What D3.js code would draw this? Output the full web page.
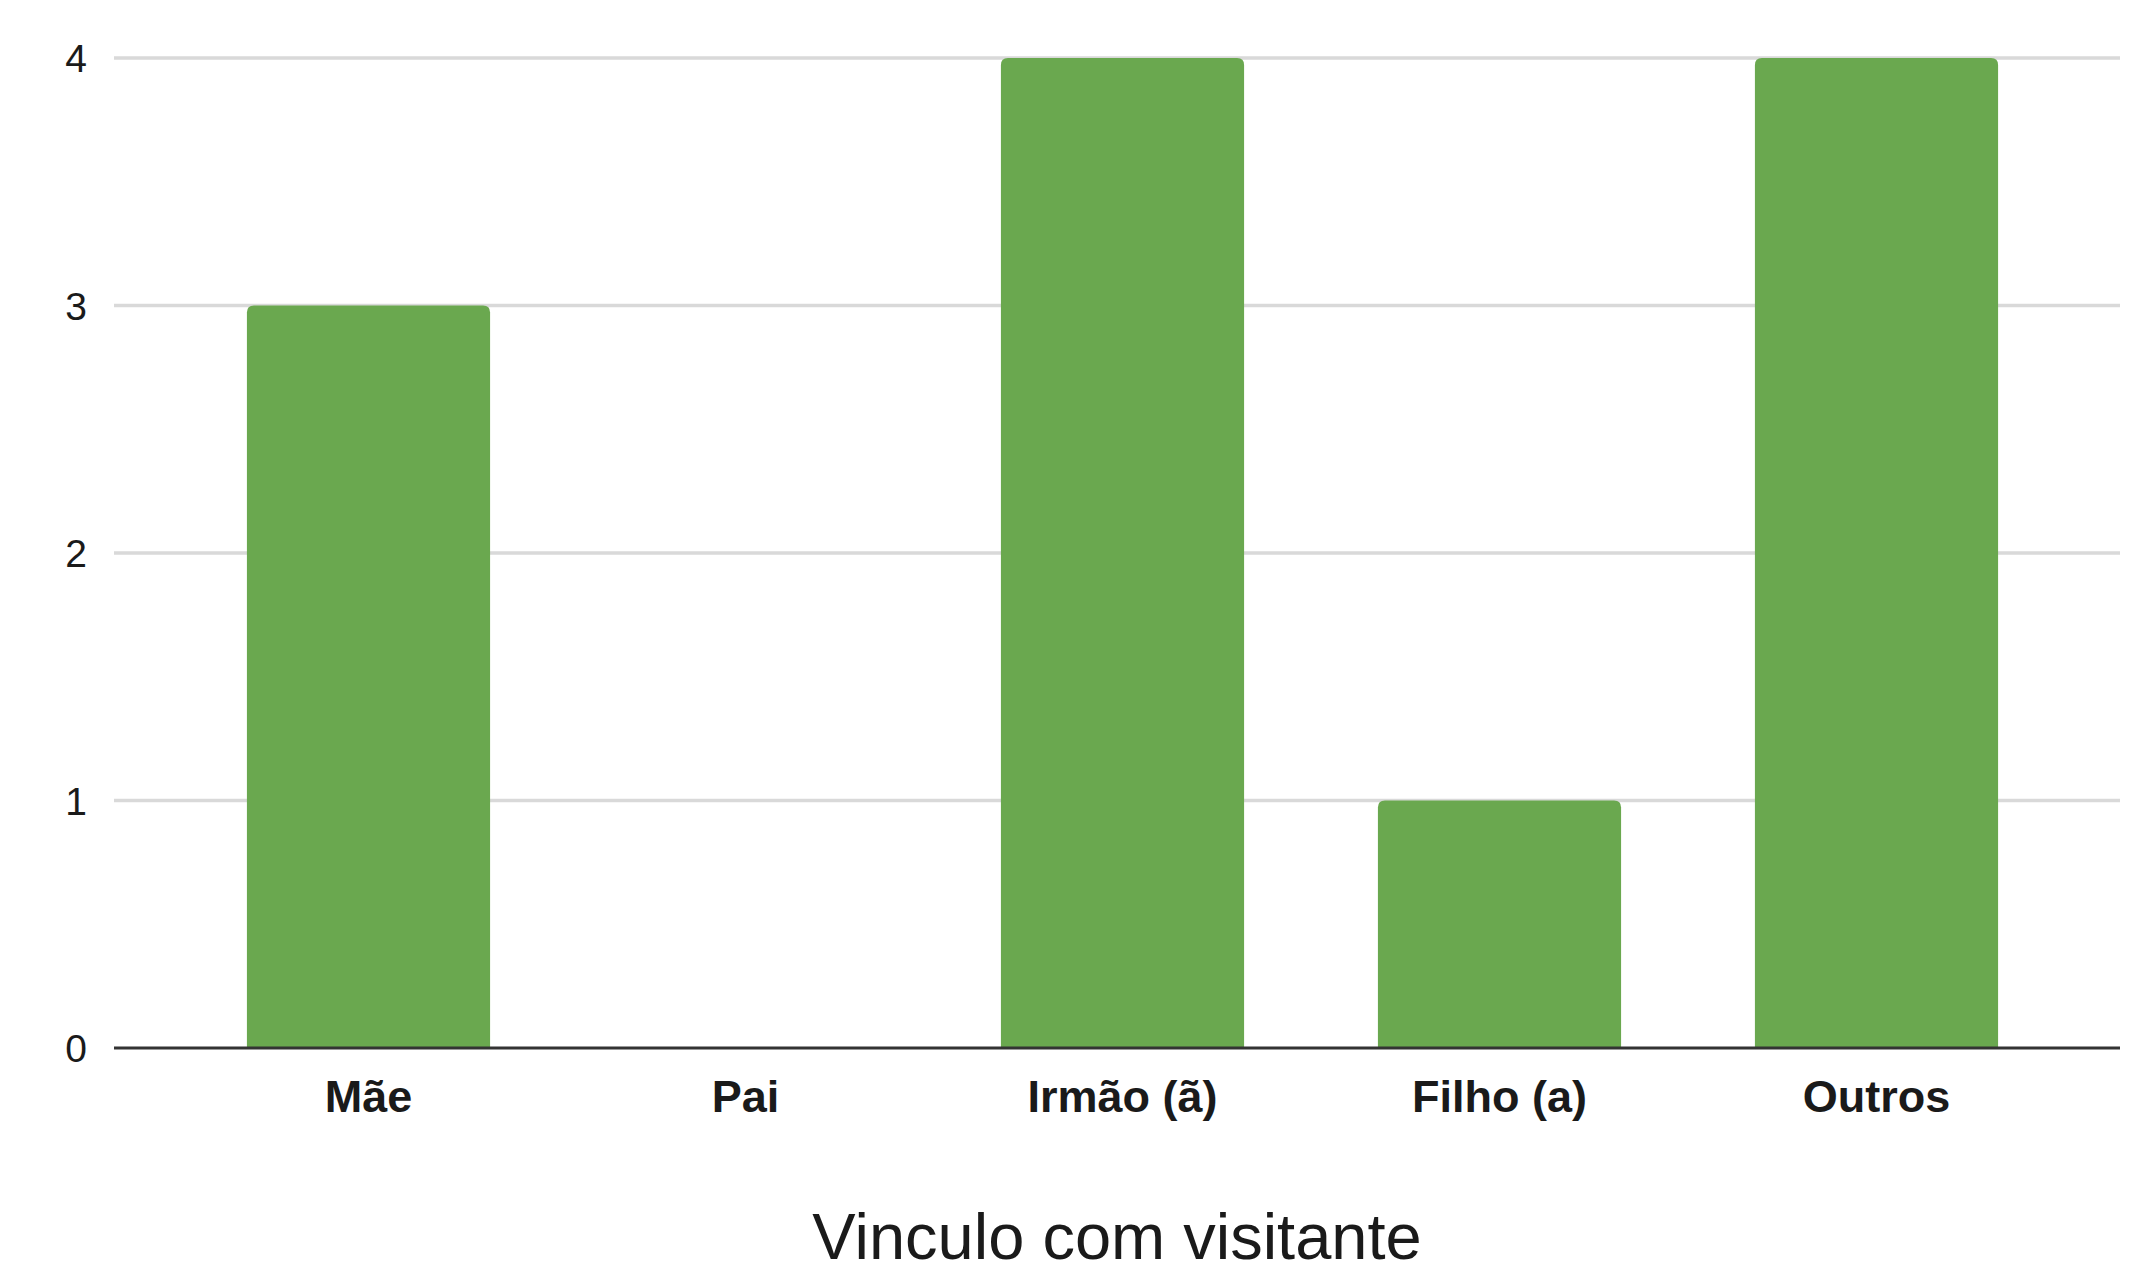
<!DOCTYPE html>
<html>
<head>
<meta charset="utf-8">
<script src="https://cdn.jsdelivr.net/npm/d3@7"></script>
<style>
  html, body { margin: 0; padding: 0; background: #ffffff; }
  svg { display: block; }
  text { font-family: "Liberation Sans", Arial, sans-serif; fill: #1a1a1a; }
</style>
</head>
<body>
<svg id="chart" width="2131" height="1273"></svg>
<script>
const categories = ["Mãe", "Pai", "Irmão (ã)", "Filho (a)", "Outros"];
const values = [3, 0, 4, 1, 4];
const yTicks = [0, 1, 2, 3, 4];
const xTitle = "Vinculo com visitante";

const W = 2131, H = 1273;
const plotLeft = 114, plotRight = 2120;
const yTop = 58, yBottom = 1048;

const svg = d3.select("#chart");
svg.append("rect").attr("width", W).attr("height", H).attr("fill", "#ffffff");

const x = d3.scaleBand()
  .domain(categories)
  .range([180, 2065])
  .paddingInner(0.355)
  .paddingOuter(0.1775);

const y = d3.scaleLinear().domain([0, 4]).range([yBottom, yTop]);

// gridlines
const grid = svg.append("g");
grid.selectAll("line")
  .data(yTicks.filter(t => t !== 0))
  .join("line")
  .attr("x1", plotLeft).attr("x2", plotRight)
  .attr("y1", d => y(d)).attr("y2", d => y(d))
  .attr("stroke", "#d9d9d9")
  .attr("stroke-width", 3.5);

// y tick labels via axis
const yAxis = d3.axisLeft(y).tickValues(yTicks).tickSize(0).tickPadding(0).tickFormat(d3.format("d"));
const yg = svg.append("g").attr("transform", `translate(87,0)`).call(yAxis);
yg.select(".domain").remove();
yg.selectAll("text")
  .attr("font-size", 39)
  .attr("fill", "#1a1a1a")
  .attr("font-family", "Liberation Sans, Arial, sans-serif")
  .attr("dy", "0.35em")
  .attr("x", 0);

// bars with rounded top corners
const r = 7;
function barPath(d, i) {
  const x0 = x(categories[i]);
  const w = x.bandwidth();
  const yt = y(d);
  const yb = y(0);
  if (d === 0) return "";
  const rr = Math.min(r, (yb - yt));
  return `M${x0},${yb} L${x0},${yt + rr} Q${x0},${yt} ${x0 + rr},${yt} L${x0 + w - rr},${yt} Q${x0 + w},${yt} ${x0 + w},${yt + rr} L${x0 + w},${yb} Z`;
}
svg.append("g").selectAll("path")
  .data(values)
  .join("path")
  .attr("d", (d, i) => barPath(d, i))
  .attr("fill", "#6aa84f");

// baseline
svg.append("line")
  .attr("x1", plotLeft).attr("x2", plotRight)
  .attr("y1", y(0)).attr("y2", y(0))
  .attr("stroke", "#333333")
  .attr("stroke-width", 3);

// x axis labels
const xAxis = d3.axisBottom(x).tickSize(0).tickPadding(0);
const xg = svg.append("g").attr("transform", `translate(0,1112)`).call(xAxis);
xg.select(".domain").remove();
xg.selectAll("text")
  .attr("font-size", 45)
  .attr("font-weight", "bold")
  .attr("fill", "#1a1a1a")
  .attr("font-family", "Liberation Sans, Arial, sans-serif")
  .attr("dy", 0)
  .attr("y", 0);

// x axis title
svg.append("text")
  .attr("x", (plotLeft + plotRight) / 2)
  .attr("y", 1259)
  .attr("text-anchor", "middle")
  .attr("font-size", 65)
  .attr("fill", "#111111")
  .text(xTitle);
</script>
</body>
</html>
